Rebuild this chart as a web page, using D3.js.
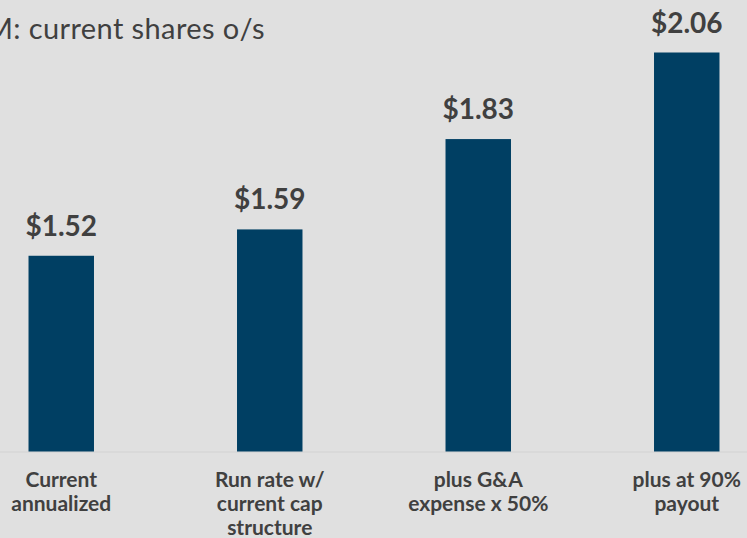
<!DOCTYPE html>
<html>
<head>
<meta charset="utf-8">
<script src="https://cdn.jsdelivr.net/npm/d3@7"></script>
<style>
  html, body { margin: 0; padding: 0; background: #e0e0e0; overflow: hidden; }
  svg { display: block; }
  .title { font-family: Lato, "Noto Sans", sans-serif; font-size: 29px; letter-spacing: 0.4px; fill: #404040; }
  .value { font-family: Lato, "Noto Sans", sans-serif; font-weight: bold; font-size: 28px; fill: #404040; }
  .cat { font-family: Lato, "Noto Sans", sans-serif; font-weight: bold; font-size: 21px; fill: #404040; }
</style>
</head>
<body>
<svg id="chart"></svg>
<script>
// data
const categories = [
    ['Current', 'annualized'],
    ['Run rate w/', 'current cap', 'structure'],
    ['plus G&A', 'expense x 50%'],
    ['plus at 90%', 'payout']
];
const values = [1.52, 1.59, 1.83, 2.06];
const titleText = 'M: current shares o/s';

const width = 747;
const height = 538;

const svg = d3.select('#chart')
    .attr('width', width)
    .attr('height', height);

svg.append('rect')
    .attr('width', width)
    .attr('height', height)
    .attr('fill', '#e0e0e0');

const x = d3.scaleBand()
    .domain(d3.range(values.length))
    .range([-43, 791])
    .paddingInner(0.686)
    .paddingOuter(0.343);

const y = d3.scaleLinear()
    .domain([1.0, 2.06])
    .range([451.5, 52.5]);

// baseline
svg.append('line')
    .attr('x1', 0)
    .attr('x2', width)
    .attr('y1', y(1.0) + 0.5)
    .attr('y2', y(1.0) + 0.5)
    .attr('stroke', '#d2d2d2')
    .attr('stroke-width', 1);

svg.selectAll('rect.bar')
    .data(values)
    .join('rect')
    .attr('class', 'bar')
    .attr('x', (d, i) => x(i))
    .attr('y', d => y(d))
    .attr('width', x.bandwidth())
    .attr('height', d => y(1.0) - y(d))
    .attr('fill', '#003f63');

svg.selectAll('text.value')
    .data(values)
    .join('text')
    .attr('class', 'value')
    .attr('x', (d, i) => x(i) + x.bandwidth() / 2)
    .attr('y', d => y(d) - 20)
    .attr('text-anchor', 'middle')
    .text(d => '$' + d.toFixed(2));

const catGroups = svg.selectAll('text.cat')
    .data(categories)
    .join('text')
    .attr('class', 'cat')
    .attr('text-anchor', 'middle')
    .attr('transform', (d, i) => `translate(${x(i) + x.bandwidth() / 2},0)`);

catGroups.selectAll('tspan')
    .data(d => d)
    .join('tspan')
    .attr('x', 0)
    .attr('y', (d, j) => 487 + j * 24)
    .text(d => d);

svg.append('text')
    .attr('class', 'title')
    .attr('x', 265)
    .attr('y', 39)
    .attr('text-anchor', 'end')
    .text(titleText);
</script>
</body>
</html>
